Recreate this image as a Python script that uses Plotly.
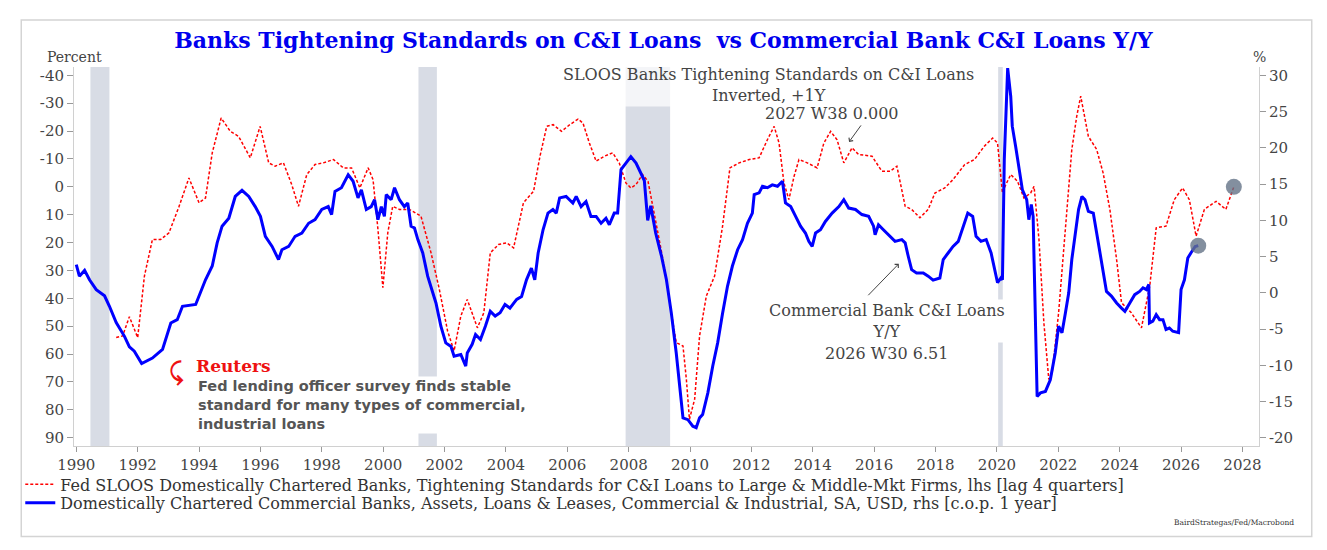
import plotly.graph_objects as go

# Fed SLOOS, tightening standards for C&I loans (lhs, inverted axis, shifted +1Y)
sloos_year = [1991.30, 1991.51, 1991.73, 1992.00, 1992.22, 1992.48, 1992.75, 1993.02, 1993.35, 1993.67,
              1994.00, 1994.21, 1994.43, 1994.72, 1995.02, 1995.29, 1995.67, 1995.99, 1996.27, 1996.48,
              1996.75, 1997.02, 1997.24, 1997.51, 1997.78, 1998.05, 1998.38, 1998.70, 1998.97, 1999.24,
              1999.51, 1999.67, 1999.83, 1999.99, 2000.15, 2000.31, 2000.53, 2000.85, 2001.23, 2001.56,
              2001.83, 2002.10, 2002.31, 2002.53, 2002.74, 2003.07, 2003.28, 2003.49, 2003.76, 2004.03,
              2004.25, 2004.57, 2004.90, 2005.11, 2005.33, 2005.54, 2005.81, 2006.08, 2006.35, 2006.51,
              2006.72, 2006.94, 2007.21, 2007.48, 2007.69, 2007.91, 2008.07, 2008.24, 2008.45, 2008.63,
              2008.90, 2009.17, 2009.39, 2009.55, 2009.77, 2009.88, 2009.98, 2010.15, 2010.31, 2010.53,
              2010.80, 2011.06, 2011.30, 2011.60, 2011.93, 2012.25, 2012.52, 2012.74, 2012.90, 2013.06,
              2013.22, 2013.39, 2013.55, 2013.82, 2014.14, 2014.36, 2014.58, 2014.79, 2015.01, 2015.28,
              2015.49, 2015.93, 2016.25, 2016.52, 2016.74, 2017.01, 2017.22, 2017.49, 2017.76, 2017.98,
              2018.30, 2018.57, 2018.95, 2019.27, 2019.59, 2019.86, 2020.02, 2020.18, 2020.29, 2020.45,
              2020.67, 2020.88, 2021.10, 2021.21, 2021.37, 2021.53, 2021.69, 2021.80, 2022.01, 2022.23,
              2022.44, 2022.60, 2022.73, 2022.98, 2023.25, 2023.46, 2023.68, 2023.90, 2024.06, 2024.38,
              2024.71, 2024.98, 2025.19, 2025.51, 2025.78, 2026.05, 2026.27, 2026.49, 2026.76, 2027.14,
              2027.46, 2027.72]
sloos_val = [54.1, 53.5, 46.6, 54.1, 32.0, 18.9, 18.9, 16.5, 7.0, -3.2,
             5.75, 4.0, -12.2, -24.7, -19.9, -18.1, -10.4, -21.7, -8.6, -7.4,
             -8.6, -0.8, 7.0, -4.4, -8.0, -8.6, -9.8, -6.8, -6.8, 0.4,
             -6.8, -2.6, 15.3, 36.2, 16.5, 7.0, 8.1, 8.1, 10.5, 23.7,
             36.8, 51.8, 58.9, 46.4, 40.4, 50.6, 45.2, 23.7, 20.7, 20.1,
             21.9, 5.75, 1.6, -11.0, -21.7, -22.3, -19.9, -22.3, -24.3, -22.9,
             -15.7, -9.2, -11.0, -12.2, -8.6, -1.4, 0.4, -0.8, -4.4, -2.0,
             13.5, 29.1, 45.2, 55.9, 57.1, 69.1, 83.4, 76.2, 53.5, 39.2,
             32.0, 14.1, -6.8, -8.6, -9.8, -10.4, -16.9, -21.7, -15.7, -1.4,
             4.6, -3.8, -9.8, -8.6, -6.8, -15.7, -19.9, -16.9, -8.6, -14.0,
             -11.6, -11.0, -5.6, -5.6, -7.4, 7.0, 8.1, 11.1, 8.1, 2.2,
             0.4, -2.6, -8.0, -9.8, -14.6, -17.5, -15.7, 2.2, -0.8, -4.4,
             -2.0, 4.0, 2.2, -0.2, 18.9, 48.8, 69.1, 66.7, 45.2, 14.1,
             -13.4, -25.3, -32.5, -18.1, -13.4, -5.0, 8.1, 26.1, 41.6, 45.2,
             50.6, 35.6, 14.7, 14.1, 4.6, 0.4, 4.6, 17.7, 8.1, 5.2,
             8.1, 0.0]

# Commercial bank C&I loans, y/y % (rhs)
ci_year = [1990.00, 1990.10, 1990.27, 1990.43, 1990.65, 1990.92, 1991.08, 1991.30, 1991.57, 1991.73,
           1991.89, 1992.13, 1992.48, 1992.81, 1993.08, 1993.29, 1993.46, 1993.89, 1994.21, 1994.43,
           1994.59, 1994.75, 1994.97, 1995.18, 1995.40, 1995.62, 1995.83, 1996.00, 1996.16, 1996.38,
           1996.59, 1996.70, 1996.92, 1997.13, 1997.35, 1997.57, 1997.78, 1998.00, 1998.21, 1998.32,
           1998.43, 1998.64, 1998.86, 1999.02, 1999.18, 1999.29, 1999.45, 1999.61, 1999.72, 1999.83,
           1999.94, 2000.04, 2000.10, 2000.26, 2000.37, 2000.53, 2000.69, 2000.80, 2000.91, 2001.02,
           2001.13, 2001.29, 2001.45, 2001.61, 2001.72, 2001.88, 2002.04, 2002.21, 2002.31, 2002.53,
           2002.69, 2002.74, 2002.90, 2003.01, 2003.17, 2003.33, 2003.49, 2003.65, 2003.81, 2003.97,
           2004.13, 2004.35, 2004.51, 2004.67, 2004.83, 2004.94, 2005.05, 2005.21, 2005.37, 2005.53,
           2005.64, 2005.75, 2005.96, 2006.18, 2006.29, 2006.45, 2006.61, 2006.77, 2006.94, 2007.10,
           2007.26, 2007.37, 2007.53, 2007.64, 2007.75, 2007.91, 2008.07, 2008.24, 2008.34, 2008.51,
           2008.62, 2008.72, 2008.88, 2009.07, 2009.23, 2009.39, 2009.55, 2009.66, 2009.77, 2009.93,
           2010.09, 2010.20, 2010.31, 2010.41, 2010.58, 2010.74, 2010.90, 2011.06, 2011.22, 2011.38,
           2011.55, 2011.71, 2011.87, 2012.03, 2012.09, 2012.25, 2012.36, 2012.52, 2012.68, 2012.85,
           2013.01, 2013.11, 2013.28, 2013.44, 2013.60, 2013.76, 2013.87, 2013.98, 2014.09, 2014.25,
           2014.41, 2014.63, 2014.85, 2015.01, 2015.17, 2015.39, 2015.60, 2015.82, 2015.98, 2016.03,
           2016.14, 2016.30, 2016.47, 2016.68, 2016.90, 2017.01, 2017.11, 2017.22, 2017.38, 2017.60,
           2017.76, 2017.92, 2018.14, 2018.25, 2018.41, 2018.57, 2018.74, 2018.86, 2019.05, 2019.21,
           2019.32, 2019.48, 2019.65, 2019.81, 2019.92, 2020.02, 2020.13, 2020.18, 2020.24, 2020.35,
           2020.45, 2020.50, 2020.61, 2020.72, 2020.83, 2020.97, 2021.04, 2021.12, 2021.18, 2021.21,
           2021.26, 2021.31, 2021.42, 2021.58, 2021.74, 2021.90, 2022.01, 2022.12, 2022.23, 2022.34,
           2022.44, 2022.55, 2022.66, 2022.77, 2022.87, 2022.98, 2023.14, 2023.25, 2023.36, 2023.46,
           2023.57, 2023.73, 2023.90, 2024.06, 2024.17, 2024.33, 2024.49, 2024.65, 2024.76, 2024.87,
           2024.95, 2024.97, 2025.08, 2025.19, 2025.30, 2025.41, 2025.51, 2025.62, 2025.73, 2025.92,
           2026.00, 2026.11, 2026.22, 2026.32, 2026.46, 2026.56]
ci_val = [3.9, 2.3, 3.1, 1.8, 0.45, -0.4, -1.85, -4.1, -6.0, -7.45,
          -8.05, -9.75, -9.0, -7.8, -4.15, -3.7, -1.85, -1.6, 1.8, 3.7,
          6.9, 9.2, 10.3, 13.3, 14.15, 13.3, 11.9, 10.55, 7.8, 6.4,
          4.6, 5.95, 6.4, 7.8, 8.25, 9.6, 10.1, 11.5, 11.9, 10.8,
          14.0, 14.5, 16.3, 15.4, 13.1, 14.2, 11.5, 11.9, 12.85, 10.1,
          11.9, 10.55, 13.55, 12.85, 14.5, 12.85, 11.9, 12.4, 9.2, 8.95,
          7.35, 5.5, 2.3, 0.0, -1.4, -4.6, -6.9, -7.4, -8.75, -8.5,
          -10.1, -8.3, -7.1, -5.75, -6.45, -4.6, -2.55, -3.2, -2.75, -1.6,
          -2.1, -0.9, -0.5, 1.8, 3.4, 1.8, 5.5, 8.7, 11.0, 11.5,
          11.0, 13.1, 13.3, 12.4, 13.3, 11.9, 12.6, 10.55, 10.55, 9.6,
          10.3, 9.4, 11.0, 11.0, 17.0, 17.9, 18.8, 17.9, 17.0, 15.5,
          10.0, 12.0, 8.25, 5.05, 1.8, -2.8, -8.3, -12.9, -17.25, -17.5,
          -18.4, -18.6, -17.25, -16.8, -13.8, -10.1, -6.9, -2.8, 0.9, 3.7,
          5.95, 7.35, 9.6, 11.0, 13.55, 13.8, 14.7, 14.5, 14.9, 14.7,
          15.4, 12.4, 11.9, 10.55, 9.2, 8.25, 7.1, 6.4, 8.25, 8.7,
          9.85, 11.0, 11.9, 12.85, 11.7, 11.5, 10.8, 10.55, 9.2, 8.0,
          9.4, 8.7, 8.0, 7.1, 7.35, 6.9, 5.05, 3.2, 2.75, 2.75,
          2.3, 1.75, 2.05, 4.6, 5.5, 6.4, 7.1, 8.7, 11.0, 10.55,
          7.8, 7.1, 7.35, 5.5, 3.2, 1.4, 2.05, 1.8, 18.4, 31.0,
          27.1, 23.0, 20.2, 17.0, 14.2, 12.85, 10.1, 12.2, 10.55, 4.6,
          -4.6, -14.3, -13.8, -13.6, -12.0, -8.3, -4.6, -5.5, -2.8, 0.0,
          4.6, 8.25, 11.5, 13.3, 12.85, 11.25, 11.0, 8.25, 5.5, 2.75,
          0.2, -0.45, -1.4, -2.1, -2.55, -1.4, -0.25, 0.2, 0.7, 0.45,
          1.15, -4.15, -3.9, -3.0, -3.7, -3.7, -5.05, -4.85, -5.3, -5.5,
          0.45, 1.8, 4.8, 5.5, 6.4, 6.51]

# US recessions (shaded)
rec_start = [1990.46, 2001.15, 2007.90, 2020.04]
rec_end = [1991.08, 2001.75, 2009.35, 2020.19]

left_ticks = [-40, -30, -20, -10, 0, 10, 20, 30, 40, 50, 60, 70, 80, 90]
right_ticks = [-20, -15, -10, -5, 0, 5, 10, 15, 20, 25, 30]
year_ticks = list(range(1990, 2029, 2))

serif = "DejaVu Serif"
grey = "#444444"

# the page body has an 8px margin, so the figure is 8px smaller and sits at (8, 8)
W, H, OFF = 1319, 542, 8

# plot area in page pixels: x 68..1259, y 67..446.5
def px(x):
    return (x - 68) / 1191

def py(y):
    return (446.5 - y) / 379.5


fig = go.Figure()

fig.add_trace(go.Scatter(
    x=sloos_year, y=sloos_val, mode="lines", yaxis="y", legend="legend",
    name="Fed SLOOS Domestically Chartered Banks, Tightening Standards for C&I Loans to Large & Middle-Mkt Firms, lhs [lag 4 quarters]",
    line=dict(color="#ff0000", width=1.5, dash="3px,2px")))
fig.add_trace(go.Scatter(
    x=ci_year, y=ci_val, mode="lines", yaxis="y2", legend="legend2",
    name="Domestically Chartered Commercial Banks, Assets, Loans & Leases, Commercial & Industrial, SA, USD, rhs [c.o.p. 1 year]",
    line=dict(color="#0000ff", width=3)))

# latest-value markers
fig.add_trace(go.Scatter(
    x=[sloos_year[-1]], y=[sloos_val[-1]], mode="markers", yaxis="y", showlegend=False,
    marker=dict(size=16, color="rgba(100,115,135,0.8)")))
fig.add_trace(go.Scatter(
    x=[ci_year[-1]], y=[ci_val[-1]], mode="markers", yaxis="y2", showlegend=False,
    marker=dict(size=16, color="rgba(100,115,135,0.8)")))

shapes = []
for a, b in zip(rec_start, rec_end):
    shapes.append(dict(type="rect", xref="x", yref="paper", x0=a, x1=b, y0=0, y1=1,
                       fillcolor="#d8dce5", line=dict(width=0), layer="below"))
# outer frame
shapes.append(dict(type="rect", xref="paper", yref="paper", x0=px(15), x1=px(1312),
                   y0=py(537), y1=py(20), line=dict(color="#d4d4d4", width=1.5)))

ann_font = dict(family=serif, size=16, color=grey)
annotations = [
    dict(text="Percent", x=px(69), y=py(57), font=dict(family=serif, size=14, color=grey)),
    dict(text="%", x=px(1259), y=py(57), font=dict(family=serif, size=14, color=grey)),
    dict(text="SLOOS Banks Tightening Standards on C&I Loans<br>Inverted, +1Y",
         x=px(766), y=py(85), font=ann_font, bgcolor="rgba(255,255,255,0.72)"),
    dict(text="2027 W38 0.000", x=px(830), y=py(114), font=ann_font),
    dict(text="", x=px(847), y=py(142), showarrow=True, ax=13, ay=-18,
         arrowhead=4, arrowwidth=1, arrowcolor=grey),
    dict(text="Commercial Bank C&I Loans<br>Y/Y", x=px(885), y=py(321), font=ann_font,
         bgcolor="#ffffff"),
    dict(text="2026 W30 6.51", x=px(885), y=py(354), font=ann_font),
    dict(text="", x=px(897), y=py(264), showarrow=True, ax=-32, ay=33,
         arrowhead=4, arrowwidth=1, arrowcolor=grey),
    dict(text="<b>⤹</b>", x=px(171), y=py(372), font=dict(family="DejaVu Sans", size=24, color="#ee1111")),
    dict(text="<b>Reuters</b>", x=px(189), y=py(366), xanchor="left",
         font=dict(family=serif, size=17, color="#ee1111")),
    dict(text="<b>Fed lending officer survey finds stable<br>standard for many types of commercial,<br>industrial loans</b>",
         x=px(191), y=py(376), xanchor="left", yanchor="top", align="left", bgcolor="#ffffff",
         font=dict(family="DejaVu Sans", size=14.5, color="#555555")),
    dict(text="BairdStrategas/Fed/Macrobond", x=px(1296), y=py(523), xanchor="right",
         font=dict(family=serif, size=7.5, color="#333333")),
]
for a in annotations:
    a.setdefault("xref", "paper")
    a.setdefault("yref", "paper")
    a.setdefault("showarrow", False)
    a.setdefault("xanchor", "center")
    a.setdefault("yanchor", "middle")

tick_font = dict(family=serif, size=15, color=grey)
legend_common = dict(x=px(14), xanchor="left", yanchor="middle", orientation="v",
                     font=dict(family=serif, size=16, color="#333333"), itemwidth=30,
                     bgcolor="rgba(0,0,0,0)")
fig.update_layout(
    width=W, height=H,
    margin=dict(l=68 - OFF, r=W - (1259 - OFF), t=67 - OFF, b=H - (446.5 - OFF)),
    paper_bgcolor="white", plot_bgcolor="white",
    title=dict(text="<b>Banks Tightening Standards on C&I Loans\u00a0 vs Commercial Bank C&I Loans Y/Y</b>",
               x=(663.5 - OFF) / W, xref="container", y=1 - (40 - OFF) / H, yref="container",
               xanchor="center", yanchor="middle",
               font=dict(family=serif, size=22, color="#0000ee")),
    xaxis=dict(range=[1989.925, 2028.54], tickvals=year_ticks, ticktext=[str(y) for y in year_ticks],
               ticks="outside", ticklen=5, tickcolor="#999999", showline=True, linecolor="#d0d0d0",
               showgrid=False, zeroline=False, tickfont=tick_font),
    yaxis=dict(range=[93, -43], tickvals=left_ticks, ticktext=[str(v) for v in left_ticks],
               ticks="outside", ticklen=6, tickcolor="#999999", showline=True, linecolor="#d0d0d0",
               showgrid=False, zeroline=False, tickfont=tick_font),
    yaxis2=dict(range=[-21.13, 31.16], tickvals=right_ticks, ticktext=[str(v) for v in right_ticks],
                overlaying="y", side="right", ticks="outside", ticklen=6, tickcolor="#999999",
                showline=True, linecolor="#d0d0d0", showgrid=False, zeroline=False, tickfont=tick_font),
    legend=dict(y=py(485), **legend_common),
    legend2=dict(y=py(503.5), **legend_common),
    shapes=shapes,
    annotations=annotations,
)

fig.write_html("out.html")
